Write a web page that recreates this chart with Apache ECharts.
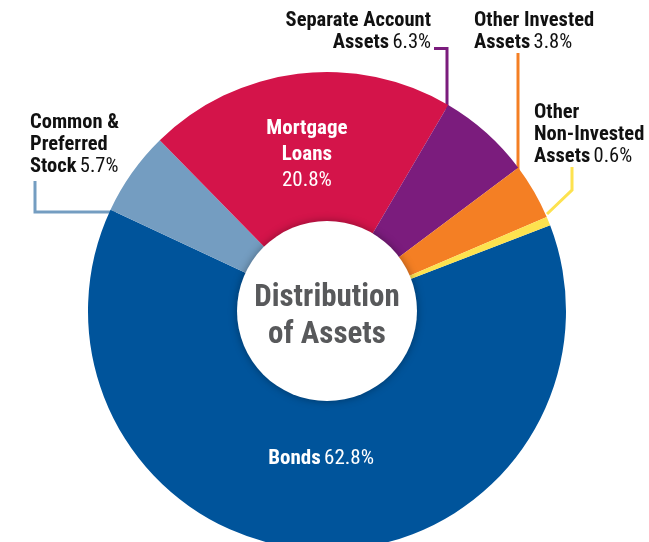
<!DOCTYPE html>
<html>
<head>
<meta charset="utf-8">
<script src="https://cdn.jsdelivr.net/npm/echarts@6/dist/echarts.min.js"></script>
<style>
  html, body { margin: 0; padding: 0; background: #fff; }
  #main { width: 649px; height: 542px; }
</style>
</head>
<body>
<div id="main"></div>
<script>
// data, clockwise from the bonds slice
var categories = ['Bonds', 'Common & Preferred Stock', 'Mortgage Loans', 'Separate Account Assets', 'Other Invested Assets', 'Other Non-Invested Assets'];
var shares = [62.8, 5.7, 20.8, 6.3, 3.8, 0.6];
var nameLines = [
  ['Bonds'],
  ['Common &', 'Preferred', 'Stock'],
  ['Mortgage', 'Loans'],
  ['Separate Account', 'Assets'],
  ['Other Invested', 'Assets'],
  ['Other', 'Non-Invested', 'Assets']
];
var colors = ['#00549b', '#749dc1', '#d4144a', '#7b1c7d', '#f47f24', '#fde24f'];
var insideLabel = [true, false, true, false, false, false];

var FONT = '"Roboto Condensed", "Liberation Sans Narrow", "DejaVu Sans Condensed", sans-serif';

var chartDom = document.getElementById('main');
var myChart = echarts.init(chartDom);

function labelText(i) {
  var lines = nameLines[i].map(function (s) { return '{b|' + s + '}'; });
  var pct = '{r|' + shares[i].toFixed(1) + '%}';
  if (i === 2) {
    lines.push(pct);
  } else {
    lines[lines.length - 1] += ' ' + pct;
  }
  return lines.join('\n');
}

// where the outside labels sit and how their leader lines run
var outsideLayout = {
  1: { x: 30, y: 112, align: 'left', pts: [[116, 212], [35, 212], [35, 181]] },
  3: { x: 431, y: 10, align: 'right', pts: [[447, 110], [447, 48.5], [434, 48.5]] },
  4: { x: 474, y: 10, align: 'left', pts: [[518, 174], [518, 100], [518, 53]] },
  5: { x: 534, y: 102, align: 'left', pts: [[547, 214], [572, 190], [572, 167]] }
};

var data = categories.map(function (c, i) {
  var item = {
    name: c,
    value: shares[i],
    itemStyle: { color: colors[i] }
  };
  if (insideLabel[i]) {
    item.label = {
      position: 'inside',
      rich: {
        b: { fontFamily: FONT, fontWeight: 'bold', fontSize: 21, color: '#fff', lineHeight: 26 },
        r: { fontFamily: FONT, fontSize: 21, color: '#fff', lineHeight: 26 }
      }
    };
    item.labelLine = { show: false };
  } else {
    item.labelLine = { show: true, lineStyle: { color: colors[i], width: 3 } };
  }
  return item;
});

var option = {
  animation: false,
  series: [
    {
      type: 'pie',
      center: [327, 311],
      radius: [86, 239],
      startAngle: 21,
      clockwise: true,
      avoidLabelOverlap: false,
      silent: true,
      itemStyle: { borderWidth: 0 },
      label: {
        show: true,
        position: 'outside',
        formatter: function (p) { return labelText(p.dataIndex); },
        rich: {
          b: { fontFamily: FONT, fontWeight: 'bold', fontSize: 20.5, color: '#111', lineHeight: 22 },
          r: { fontFamily: FONT, fontSize: 20.5, color: '#111', lineHeight: 22 }
        }
      },
      labelLine: { show: true, smooth: false },
      labelLayout: function (params) {
        var l = outsideLayout[params.dataIndex];
        if (!l) {
          return params.dataIndex === 0 ? { dy: -18 } : { dy: 8 };
        }
        return {
          x: l.x,
          y: l.y,
          align: l.align,
          verticalAlign: 'top',
          labelLinePoints: l.pts
        };
      },
      data: data
    },
    {
      type: 'pie',
      center: [327, 311],
      radius: [0, 90],
      silent: true,
      z: 5,
      itemStyle: {
        color: '#fff',
        shadowBlur: 8,
        shadowColor: 'rgba(0,0,0,0.35)'
      },
      label: {
        show: true,
        position: 'center',
        formatter: 'Distribution\nof Assets',
        fontFamily: FONT,
        fontWeight: 'bold',
        fontSize: 31,
        lineHeight: 37,
        offset: [0, 6],
        color: '#58595b'
      },
      labelLine: { show: false },
      data: [{ name: 'center', value: 1 }]
    }
  ]
};

option && myChart.setOption(option);
</script>
</body>
</html>
